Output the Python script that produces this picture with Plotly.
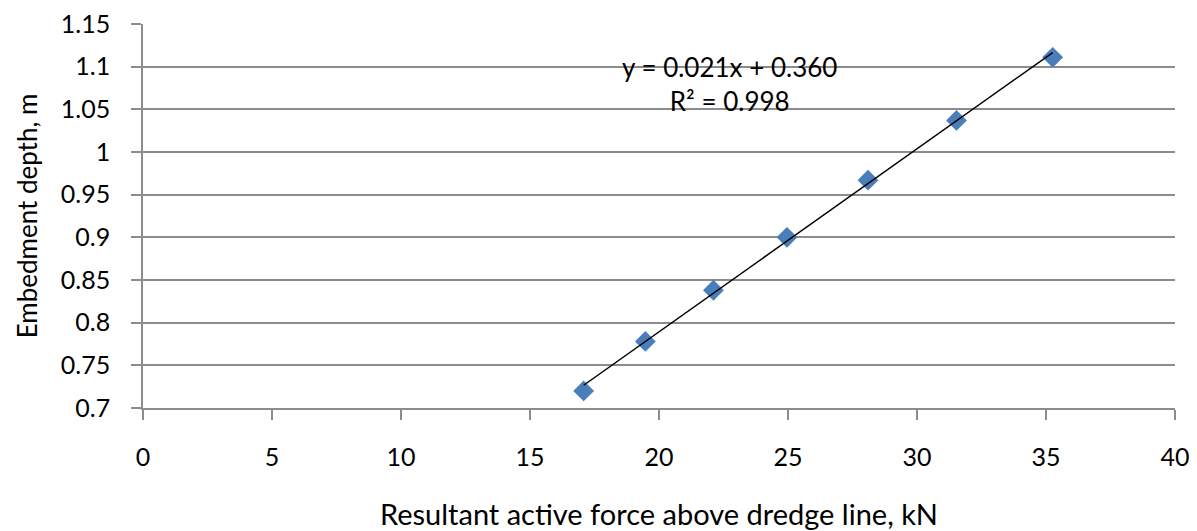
import numpy as np
import plotly.graph_objects as go

force_kN = [17.08, 19.47, 22.11, 24.96, 28.10, 31.53, 35.26]
depth_m = [0.720, 0.778, 0.838, 0.900, 0.967, 1.037, 1.111]
x_ticks = [0, 5, 10, 15, 20, 25, 30, 35, 40]
y_ticks = [0.7, 0.75, 0.8, 0.85, 0.9, 0.95, 1.0, 1.05, 1.1, 1.15]
y_tick_text = ["0.7", "0.75", "0.8", "0.85", "0.9", "0.95", "1", "1.05", "1.1", "1.15"]

slope, intercept = np.polyfit(force_kN, depth_m, 1)
fit_x = [min(force_kN), max(force_kN)]
fit_y = [slope * v + intercept for v in fit_x]

FONT = "Lato, Calibri, 'Open Sans', sans-serif"
GRID = "#8c8c8c"

fig = go.Figure()
fig.add_trace(go.Scatter(
    x=force_kN, y=depth_m, mode="markers",
    marker=dict(symbol="diamond", size=16, color="#4a7ebb"),
    showlegend=False, hoverinfo="x+y"))
fig.add_trace(go.Scatter(
    x=fit_x, y=fit_y, mode="lines",
    line=dict(color="black", width=1.5),
    showlegend=False, hoverinfo="skip"))

fig.add_annotation(
    x=0.568, y=0.844, xref="paper", yref="paper",
    xanchor="center", yanchor="middle",
    text="y = 0.021x + 0.360<br>R² = 0.998",
    showarrow=False, align="center",
    font=dict(family=FONT, size=26, color="black"))

fig.update_layout(
    width=1197, height=531,
    margin=dict(l=143, r=22, t=24, b=123),
    paper_bgcolor="white", plot_bgcolor="white",
    font=dict(family=FONT, size=25, color="black"),
    xaxis=dict(
        range=[0, 40], tickvals=x_ticks, showgrid=False, zeroline=False,
        automargin=False,
        showline=True, linecolor=GRID, linewidth=1.5,
        ticks="outside", ticklen=10, tickcolor=GRID, tickwidth=1.5,
        tickfont=dict(family=FONT, size=25), ticklabelstandoff=16,
        title=dict(text="Resultant active force above dredge line, kN",
                   font=dict(family=FONT, size=29), standoff=36)),
    yaxis=dict(
        range=[0.7, 1.15], tickvals=y_ticks, ticktext=y_tick_text,
        automargin=False,
        showgrid=True, gridcolor=GRID, gridwidth=1.5, zeroline=False,
        showline=True, linecolor=GRID, linewidth=1.5,
        ticks="outside", ticklen=10, tickcolor=GRID, tickwidth=1.5,
        tickfont=dict(family=FONT, size=25), ticklabelstandoff=16,
        title=dict(text="Embedment depth, m",
                   font=dict(family=FONT, size=26), standoff=16)),
)

fig.write_html("out.html", config={"displayModeBar": False},
               post_script="document.body.style.margin='0px';")
